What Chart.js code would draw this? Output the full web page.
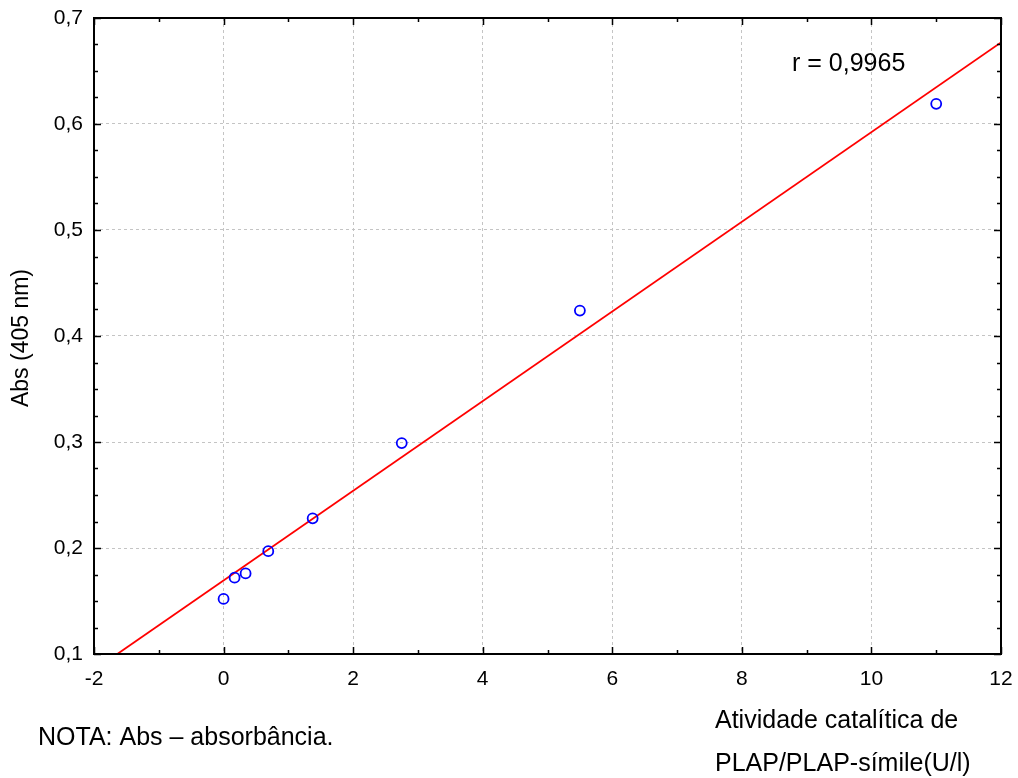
<!DOCTYPE html>
<html>
<head>
<meta charset="utf-8">
<script src="https://cdn.jsdelivr.net/npm/chart.js@4/dist/chart.umd.min.js"></script>
<style>
  body { margin: 0; background: #fff; }
  #wrap { width: 1018px; height: 778px; }
</style>
</head>
<body>
<div id="wrap"><canvas id="myChart" width="1018" height="778"></canvas></div>
<script>
// valores
const activity = [0, 0.17, 0.34, 0.69, 1.375, 2.75, 5.5, 11];
const absorbance = [0.152, 0.172, 0.176, 0.197, 0.228, 0.299, 0.424, 0.619];
const fitX = [-1.64, 12];
const fitY = [0.1, 0.677];
const rLabel = "r = 0,9965";
const noteLabel = "NOTA: Abs – absorbância.";
const xTitleLines = ["Atividade catalítica de", "PLAP/PLAP-símile(U/l)"];
const yTitle = "Abs (405 nm)";

const FONT = "'Liberation Sans', Arial, sans-serif";

// ticks internos, moldura e textos
const extras = {
  id: "extras",
  afterDraw(chart) {
    const { ctx, chartArea: a, scales } = chart;
    const x = scales.x, y = scales.y;
    ctx.save();
    ctx.strokeStyle = "#000";
    ctx.lineWidth = 1.5;
    ctx.beginPath();
    for (let v = -2; v <= 12; v++) {
      const px = Math.round(x.getPixelForValue(v)) + 0.5;
      const len = v % 2 === 0 ? 7 : 4;
      ctx.moveTo(px, a.bottom); ctx.lineTo(px, a.bottom - len);
      ctx.moveTo(px, a.top); ctx.lineTo(px, a.top + len);
    }
    for (let i = 0; i <= 24; i++) {
      const py = Math.round(y.getPixelForValue(0.1 + i * 0.025)) + 0.5;
      const len = i % 4 === 0 ? 7 : 4;
      ctx.moveTo(a.left, py); ctx.lineTo(a.left + len, py);
      ctx.moveTo(a.right, py); ctx.lineTo(a.right - len, py);
    }
    ctx.stroke();
    ctx.lineWidth = 2;
    ctx.strokeRect(a.left, a.top, a.right - a.left, a.bottom - a.top);

    ctx.fillStyle = "#000";
    ctx.textBaseline = "middle";
    ctx.textAlign = "left";
    ctx.font = "25px " + FONT;
    ctx.fillText(rLabel, 792, 64);
    ctx.fillText(noteLabel, 38, 738);
    ctx.fillText(xTitleLines[0], 715, 721);
    ctx.fillText(xTitleLines[1], 715, 764);

    ctx.font = "23px " + FONT;
    ctx.translate(22, 338);
    ctx.rotate(-Math.PI / 2);
    ctx.textAlign = "center";
    ctx.fillText(yTitle, 0, 0);
    ctx.restore();
  }
};

const ctx = document.getElementById("myChart").getContext("2d");
const myChart = new Chart(ctx, {
  type: "scatter",
  data: {
    datasets: [
      {
        label: "Abs",
        data: activity.map((v, i) => ({ x: v, y: absorbance[i] })),
        pointStyle: "circle",
        pointRadius: 5,
        pointBorderWidth: 1.8,
        borderColor: "#0000ff",
        backgroundColor: "rgba(255,255,255,0)",
      },
      {
        type: "line",
        label: "ajuste",
        data: fitX.map((v, i) => ({ x: v, y: fitY[i] })),
        borderColor: "#ff0000",
        borderWidth: 1.8,
        pointRadius: 0,
        fill: false,
      },
    ],
  },
  options: {
    responsive: false,
    animation: false,
    layout: { padding: { top: 18, right: 17, left: 0, bottom: 0 } },
    plugins: { legend: { display: false }, tooltip: { enabled: false } },
    scales: {
      x: {
        type: "linear",
        min: -2,
        max: 12,
        afterFit: (s) => { s.height = 124; s.paddingLeft = 0; s.paddingRight = 0; },
        grid: { color: "#c4c4c4", lineWidth: 1, drawTicks: false },
        border: { display: false, dash: [3, 3] },
        ticks: {
          stepSize: 2,
          padding: 13,
          color: "#000",
          font: { family: FONT, size: 21 },
          callback: (v) => String(v),
        },
      },
      y: {
        type: "linear",
        min: 0.1,
        max: 0.7,
        afterFit: (s) => { s.width = 94; s.paddingTop = 0; s.paddingBottom = 0; },
        grid: { color: "#c4c4c4", lineWidth: 1, drawTicks: false },
        border: { display: false, dash: [3, 3] },
        ticks: {
          stepSize: 0.1,
          padding: 11,
          color: "#000",
          font: { family: FONT, size: 21 },
          callback: (v) => v.toFixed(1).replace(".", ","),
        },
      },
    },
  },
  plugins: [extras],
});
</script>
</body>
</html>
